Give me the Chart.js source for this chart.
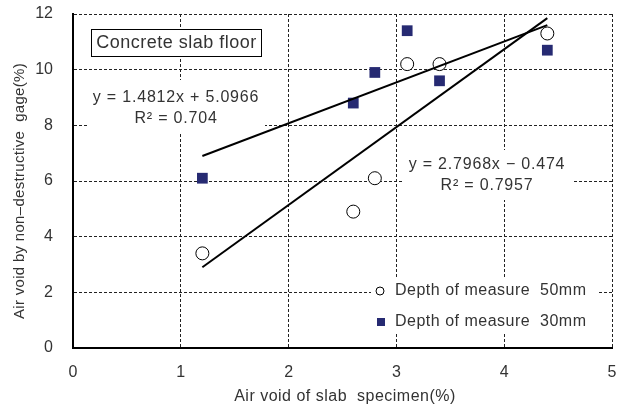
<!DOCTYPE html>
<html>
<head>
<meta charset="utf-8">
<script src="https://cdn.jsdelivr.net/npm/chart.js@4/dist/chart.umd.min.js"></script>
<style>
  html, body { margin: 0; padding: 0; background: #fff; }
  #wrap { width: 617px; height: 412px; }
</style>
</head>
<body>
<div id="wrap"><canvas id="chart" width="617" height="412"></canvas></div>
<script>
const x50 = [1.2, 2.6, 2.8, 3.1, 3.4, 4.4];
const y50 = [3.4, 4.9, 6.1, 10.2, 10.2, 11.3];
const x30 = [1.2, 2.6, 2.8, 3.1, 3.4, 4.4];
const y30 = [6.1, 8.8, 9.9, 11.4, 9.6, 10.7];

// trend line end points as drawn
const trend30X = [1.2, 4.4];
const trend30Y = [6.9, 11.6];
const trend50X = [1.2, 4.4];
const trend50Y = [2.9, 11.85];

const xTicks = [0, 1, 2, 3, 4, 5];
const yTicks = [0, 2, 4, 6, 8, 10, 12];

const seriesNames = ['Depth of measure  50mm', 'Depth of measure  30mm'];
const eq30 = ['y = 1.4812x + 5.0966', 'R\u00b2 = 0.704'];
const eq50 = ['y = 2.7968x \u2212 0.474', 'R\u00b2 = 0.7957'];
const boxTitle = 'Concrete slab floor';
const xTitle = 'Air void of slab  specimen(%)';
const yTitle = 'Air void by non\u2013destructive  gage(%)';

const FONT = '"Liberation Sans", Arial, sans-serif';
const TXT = '#333';
const NAVY = '#262a72';

const toPts = (xs, ys) => xs.map((x, i) => ({ x: x, y: ys[i] }));

// white patches behind the text blocks, then the texts themselves
const overlay = {
  id: 'overlay',
  beforeDatasetsDraw(chart) {
    const ctx = chart.ctx;
    ctx.save();
    ctx.fillStyle = '#fff';
    ctx.fillRect(87, 80, 178, 53);
    ctx.fillRect(403, 150, 169, 50);
    ctx.fillRect(371, 278, 226, 56);
    ctx.restore();
  },
  afterDatasetsDraw(chart) {
    const ctx = chart.ctx;
    ctx.save();
    // title box
    ctx.fillStyle = '#fff';
    ctx.fillRect(91.5, 29.5, 170, 27);
    ctx.strokeStyle = '#000';
    ctx.lineWidth = 1;
    ctx.strokeRect(91.5, 29.5, 170, 27);
    ctx.fillStyle = TXT;
    ctx.textAlign = 'center';
    ctx.textBaseline = 'middle';
    ctx.font = '18px ' + FONT;
    ctx.letterSpacing = '0.5px';
    ctx.fillText(boxTitle, 176.5, 43.5);

    ctx.font = '16px ' + FONT;
    ctx.letterSpacing = '0.8px';
    ctx.fillText(eq30[0], 176, 98);
    ctx.fillText(eq30[1], 176, 119);
    ctx.fillText(eq50[0], 487, 165);
    ctx.fillText(eq50[1], 487, 186);

    // legend
    ctx.beginPath();
    ctx.arc(380, 291, 4, 0, Math.PI * 2);
    ctx.strokeStyle = '#000';
    ctx.lineWidth = 1;
    ctx.stroke();
    ctx.fillStyle = NAVY;
    ctx.fillRect(377, 318, 8, 8);
    ctx.fillStyle = TXT;
    ctx.textAlign = 'left';
    ctx.letterSpacing = '0.5px';
    ctx.fillText(seriesNames[0], 395, 291);
    ctx.fillText(seriesNames[1], 395, 322);

    // axis titles
    ctx.textAlign = 'center';
    ctx.fillText(xTitle, 345, 397);
    ctx.font = '15px ' + FONT;
    ctx.letterSpacing = '0.3px';
    ctx.translate(20, 191);
    ctx.rotate(-Math.PI / 2);
    ctx.fillText(yTitle, 0, 0);
    ctx.restore();
  }
};

const noPad = s => { s.paddingTop = 0; s.paddingBottom = 0; s.paddingLeft = 0; s.paddingRight = 0; };

new Chart(document.getElementById('chart'), {
  type: 'scatter',
  data: {
    datasets: [
      {
        label: seriesNames[0],
        data: toPts(x50, y50),
        pointStyle: 'circle',
        pointRadius: 6.5,
        pointBackgroundColor: '#fff',
        pointBorderColor: '#000',
        pointBorderWidth: 1,
        order: 2
      },
      {
        label: seriesNames[1],
        data: toPts(x30, y30),
        pointStyle: 'rect',
        pointRadius: 7.6,
        pointBackgroundColor: NAVY,
        pointBorderColor: NAVY,
        pointBorderWidth: 0,
        order: 3
      },
      {
        label: 'trend30',
        data: toPts(trend30X, trend30Y),
        showLine: true,
        borderColor: '#000',
        borderWidth: 2,
        pointRadius: 0,
        order: 1
      },
      {
        label: 'trend50',
        data: toPts(trend50X, trend50Y),
        showLine: true,
        borderColor: '#000',
        borderWidth: 2,
        pointRadius: 0,
        order: 1
      }
    ]
  },
  options: {
    responsive: false,
    animation: false,
    layout: { autoPadding: false, padding: { top: 14, right: 5, left: 0, bottom: 0 } },
    plugins: {
      legend: { display: false },
      tooltip: { enabled: false }
    },
    scales: {
      x: {
        type: 'linear',
        min: 0,
        max: 5,
        afterBuildTicks: s => { s.ticks = xTicks.map(v => ({ value: v })); },
        afterFit: s => { s.height = 64; noPad(s); },
        grid: { color: '#222', lineWidth: 1, drawTicks: false },
        border: { display: true, color: '#000', width: 2, dash: [3, 2] },
        ticks: { color: TXT, font: { family: FONT, size: 16 }, padding: 15 }
      },
      y: {
        type: 'linear',
        min: 0,
        max: 12,
        afterBuildTicks: s => { s.ticks = yTicks.map(v => ({ value: v })); },
        afterFit: s => { s.width = 73; noPad(s); },
        grid: { color: '#222', lineWidth: 1, drawTicks: false },
        border: { display: true, color: '#000', width: 2, dash: [3, 2] },
        ticks: { color: TXT, font: { family: FONT, size: 16 }, padding: 20 }
      }
    }
  },
  plugins: [overlay]
});
</script>
</body>
</html>
